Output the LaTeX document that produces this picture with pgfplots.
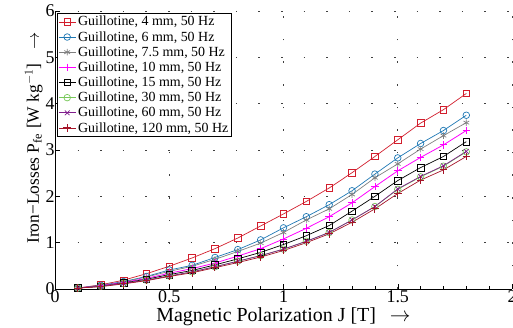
\documentclass[border=0pt]{standalone}
\usepackage{pgfplots}
\pgfplotsset{compat=1.18}
\usepackage{fontspec}
\setmainfont{Liberation Serif}

\definecolor{cA}{RGB}{210,30,45}
\definecolor{cB}{RGB}{30,120,180}
\definecolor{cC}{RGB}{128,128,128}
\definecolor{cD}{RGB}{255,0,255}
\definecolor{cE}{RGB}{0,0,0}
\definecolor{cF}{RGB}{120,200,90}
\definecolor{cG}{RGB}{128,30,140}
\definecolor{cH}{RGB}{165,20,40}

\begin{document}
\begin{tikzpicture}
\begin{axis}[
  scale only axis,
  width=457bp, height=278bp,
  xmin=0, xmax=2, ymin=0, ymax=6,
  xtick={0,0.5,1,1.5,2},
  ytick={0,1,2,3,4,5,6},
  minor x tick num=4,
  axis x line*=bottom, axis y line*=left,
  tick align=inside,
  major tick length=5bp, minor tick length=3bp,
  tick style={black, line width=0.5pt},
  axis line style={black, line width=0.6pt},
  grid=major,
  major grid style={black!75, line width=0.7pt, dash pattern=on 1.6bp off 21bp},
  /pgf/number format/assume math mode=true,
  ticklabel style={font=\fontsize{18}{19}\selectfont},
  xticklabel style={yshift=-0.5bp, inner ysep=1bp},
  yticklabel style={xshift=3bp},
  xlabel={Magnetic Polarization J [T]\hspace{0.7em}$\rightarrow$},
  ylabel={Iron−Losses P$_{\mathrm{fe}}$ [W kg$^{-1}$]\hspace{0.8em}$\rightarrow$},
  xlabel style={font=\fontsize{20}{22}\selectfont, yshift=-3bp, inner ysep=1bp},
  ylabel style={font=\fontsize{17.5}{20}\selectfont, yshift=-4bp, xshift=12bp},
  legend style={at={(axis cs:0,6)}, anchor=north west, xshift=2bp, yshift=-2bp,
    font=\fontsize{14}{15.5}\selectfont, draw=black, line width=0.6pt,
    inner sep=1bp, row sep=0bp, fill=white},
  legend cell align=left,
  every axis plot/.append style={line width=0.7pt, mark size=3.3bp},
  clip=false,
]
% 4 mm
\addplot[cA, mark=square] coordinates {
(0.1,0.02)(0.2,0.09)(0.3,0.19)(0.4,0.33)(0.5,0.49)(0.6,0.67)(0.7,0.87)(0.8,1.10)(0.9,1.36)
(1.0,1.62)(1.1,1.89)(1.2,2.18)(1.3,2.51)(1.4,2.86)(1.5,3.22)(1.6,3.58)(1.7,3.87)(1.8,4.22)};
\addlegendentry{Guillotine, 4 mm, 50 Hz}
% 6 mm
\addplot[cB, mark=o] coordinates {
(0.1,0.02)(0.2,0.08)(0.3,0.16)(0.4,0.27)(0.5,0.41)(0.6,0.51)(0.7,0.68)(0.8,0.85)(0.9,1.06)
(1.0,1.32)(1.1,1.56)(1.2,1.82)(1.3,2.12)(1.4,2.48)(1.5,2.83)(1.6,3.14)(1.7,3.42)(1.8,3.75)};
\addlegendentry{Guillotine, 6 mm, 50 Hz}
% 7.5 mm
\addplot[cC, mark=asterisk] coordinates {
(0.1,0.02)(0.2,0.07)(0.3,0.15)(0.4,0.26)(0.5,0.38)(0.6,0.49)(0.7,0.64)(0.8,0.81)(0.9,0.99)
(1.0,1.22)(1.1,1.49)(1.2,1.73)(1.3,2.04)(1.4,2.40)(1.5,2.70)(1.6,3.02)(1.7,3.31)(1.8,3.59)};
\addlegendentry{Guillotine, 7.5 mm, 50 Hz}
% 10 mm
\addplot[cD, mark=+, mark size=3.8bp, line width=0.8pt] coordinates {
(0.1,0.02)(0.2,0.07)(0.3,0.14)(0.4,0.23)(0.5,0.34)(0.6,0.44)(0.7,0.56)(0.8,0.71)(0.9,0.87)
(1.0,1.08)(1.1,1.31)(1.2,1.56)(1.3,1.86)(1.4,2.21)(1.5,2.55)(1.6,2.84)(1.7,3.11)(1.8,3.42)};
\addlegendentry{Guillotine, 10 mm, 50 Hz}
% 15 mm
\addplot[cE, mark=square] coordinates {
(0.1,0.02)(0.2,0.06)(0.3,0.13)(0.4,0.21)(0.5,0.31)(0.6,0.40)(0.7,0.52)(0.8,0.65)(0.9,0.79)
(1.0,0.96)(1.1,1.15)(1.2,1.37)(1.3,1.68)(1.4,2.00)(1.5,2.34)(1.6,2.62)(1.7,2.86)(1.8,3.18)};
\addlegendentry{Guillotine, 15 mm, 50 Hz}
% 30 mm
\addplot[cF, mark=o] coordinates {
(0.1,0.02)(0.2,0.06)(0.3,0.12)(0.4,0.19)(0.5,0.28)(0.6,0.37)(0.7,0.48)(0.8,0.60)(0.9,0.72)
(1.0,0.86)(1.1,1.03)(1.2,1.22)(1.3,1.49)(1.4,1.78)(1.5,2.15)(1.6,2.42)(1.7,2.65)(1.8,2.96)};
\addlegendentry{Guillotine, 30 mm, 50 Hz}
% 60 mm
\addplot[cG, mark=x] coordinates {
(0.1,0.02)(0.2,0.06)(0.3,0.12)(0.4,0.19)(0.5,0.28)(0.6,0.37)(0.7,0.48)(0.8,0.60)(0.9,0.72)
(1.0,0.86)(1.1,1.03)(1.2,1.22)(1.3,1.49)(1.4,1.78)(1.5,2.16)(1.6,2.43)(1.7,2.66)(1.8,2.97)};
\addlegendentry{Guillotine, 60 mm, 50 Hz}
% 120 mm
\addplot[cH, mark=+, mark size=3.8bp, mark options={line width=1.1pt}] coordinates {
(0.1,0.02)(0.2,0.05)(0.3,0.11)(0.4,0.18)(0.5,0.27)(0.6,0.35)(0.7,0.46)(0.8,0.57)(0.9,0.69)
(1.0,0.83)(1.1,1.00)(1.2,1.19)(1.3,1.44)(1.4,1.73)(1.5,2.06)(1.6,2.35)(1.7,2.57)(1.8,2.86)};
\addlegendentry{Guillotine, 120 mm, 50 Hz}
\end{axis}
\pgfresetboundingbox
\path ([xshift=-55bp,yshift=-39bp]current axis.south west) rectangle ([xshift=1bp,yshift=11bp]current axis.north east);
\end{tikzpicture}
\end{document}
